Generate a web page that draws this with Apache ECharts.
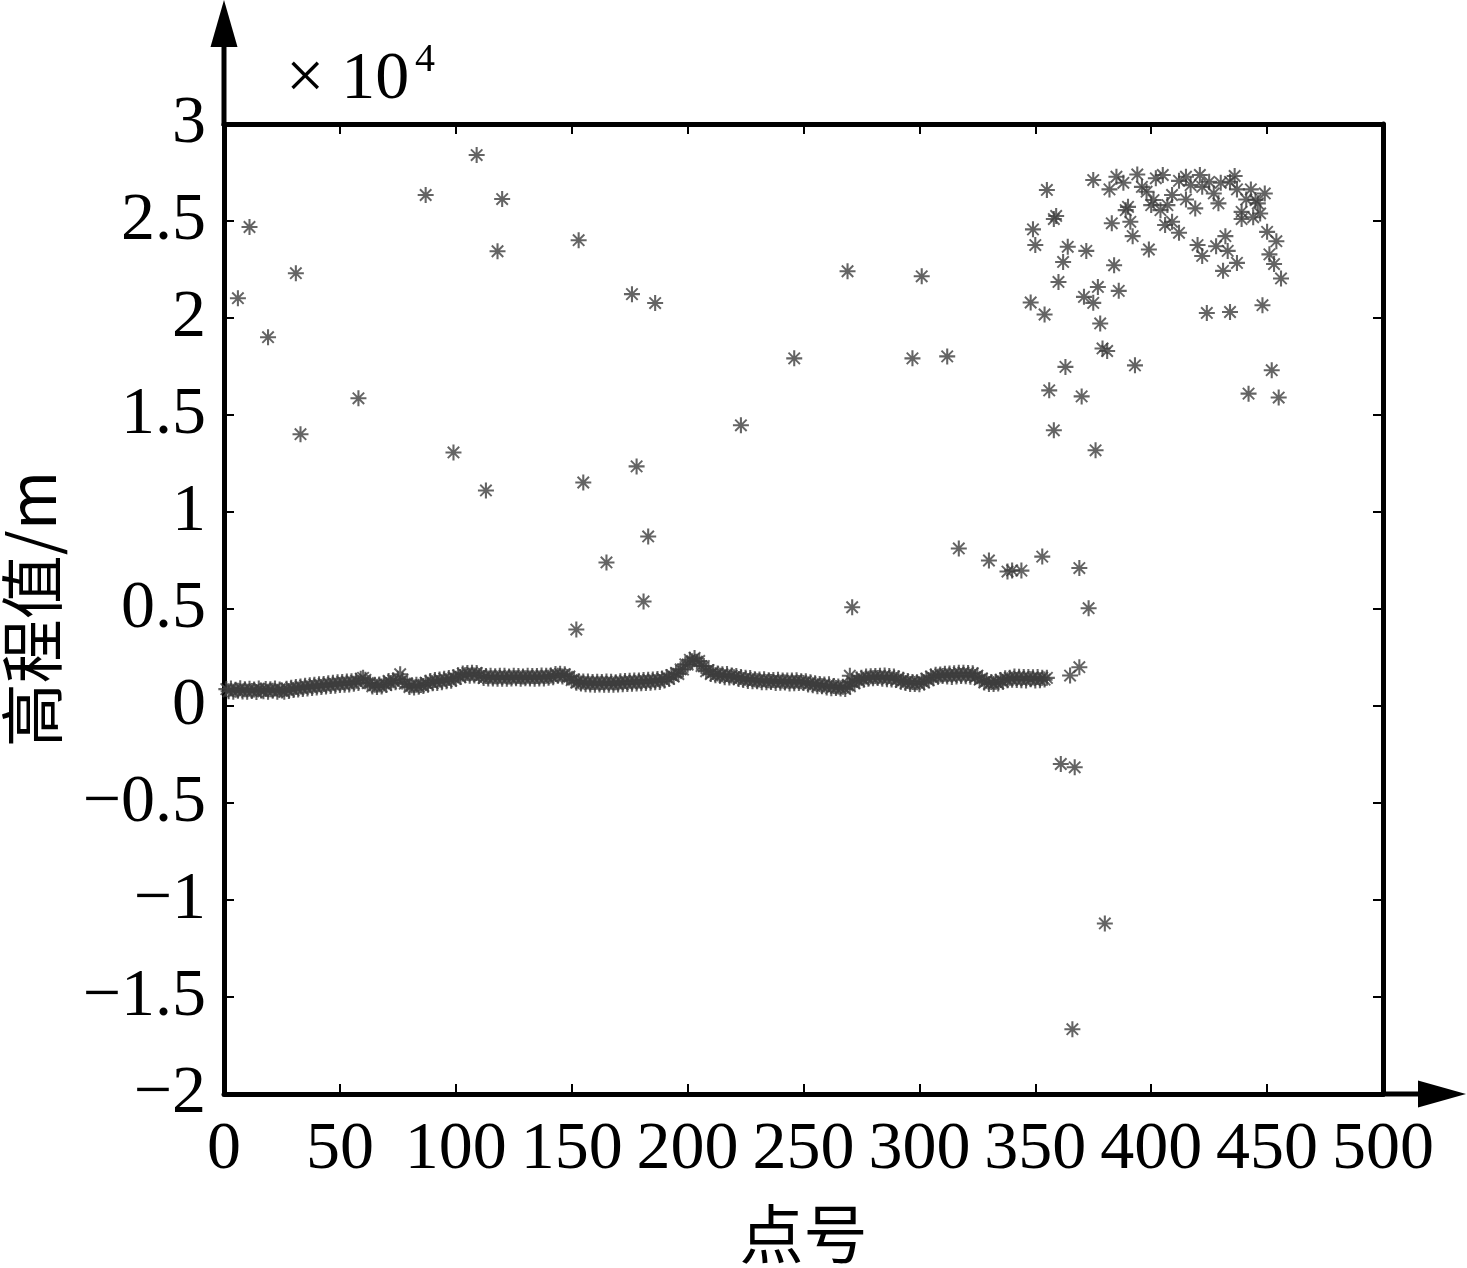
<!DOCTYPE html>
<html>
<head>
<meta charset="utf-8">
<script src="https://cdn.jsdelivr.net/npm/echarts@6/dist/echarts.min.js"></script>
<style>
  html, body { margin: 0; padding: 0; background: #fff; }
  #main { width: 1467px; height: 1268px; }
</style>
</head>
<body>
<div id="main"></div>
<script>
// 点号 1..355 的正常高程值 (m)
var baseline = [
  870, 760, 900, 740, 840, 790, 910, 750, 860, 730,
  890, 770, 850, 720, 900, 800, 760, 880, 740, 860,
  780, 900, 740, 850, 800, 730, 890, 770, 940, 820,
  980, 850, 1010, 880, 1050, 900, 1070, 930, 1100, 950,
  1120, 980, 1140, 1000, 1170, 1030, 1200, 1050, 1220, 1080,
  1240, 1090, 1260, 1110, 1280, 1150, 1300, 1190, 1400, 1450,
  1350, 1180, 1170, 1010, 1090, 980, 1110, 1000, 1160, 1080,
  1290, 1180, 1330, 1220, 1400, 1640, 1350, 1150, 1150, 980,
  1070, 950, 1100, 990, 1080, 1030, 1200, 1100, 1290, 1170,
  1340, 1190, 1370, 1230, 1410, 1270, 1440, 1300, 1480, 1400,
  1580, 1490, 1670, 1580, 1700, 1560, 1720, 1570, 1700, 1540,
  1600, 1440, 1540, 1420, 1560, 1420, 1530, 1400, 1560, 1410,
  1560, 1400, 1520, 1420, 1560, 1430, 1540, 1400, 1520, 1430,
  1560, 1420, 1540, 1410, 1550, 1420, 1570, 1420, 1560, 1450,
  1570, 1480, 1650, 1560, 1660, 1520, 1640, 1500, 1520, 1330,
  1360, 1200, 1280, 1160, 1260, 1120, 1260, 1110, 1240, 1100,
  1250, 1110, 1240, 1090, 1260, 1100, 1250, 1100, 1220, 1110,
  1280, 1120, 1290, 1140, 1300, 1150, 1310, 1160, 1320, 1170,
  1340, 1180, 1350, 1200, 1370, 1220, 1390, 1240, 1420, 1310,
  1490, 1400, 1590, 1510, 1700, 1650, 1890, 1880, 2150, 2130,
  2380, 2310, 2480, 2280, 2320, 2060, 2060, 1790, 1850, 1650,
  1750, 1580, 1670, 1560, 1640, 1480, 1650, 1470, 1570, 1480,
  1550, 1390, 1490, 1340, 1450, 1290, 1440, 1270, 1380, 1280,
  1370, 1220, 1380, 1230, 1330, 1240, 1340, 1190, 1350, 1200,
  1310, 1210, 1320, 1160, 1320, 1170, 1330, 1180, 1280, 1190,
  1270, 1110, 1220, 1070, 1170, 1020, 1130, 1020, 1110, 950,
  1120, 920, 1030, 930, 1010, 900, 990, 880, 1060, 1010,
  1250, 1180, 1370, 1280, 1450, 1350, 1520, 1410, 1530, 1430,
  1540, 1440, 1560, 1400, 1570, 1380, 1540, 1360, 1520, 1340,
  1430, 1250, 1350, 1180, 1290, 1130, 1240, 1130, 1230, 1120,
  1300, 1210, 1410, 1330, 1520, 1430, 1610, 1510, 1630, 1540,
  1660, 1520, 1670, 1500, 1690, 1520, 1710, 1540, 1720, 1530,
  1700, 1510, 1690, 1490, 1570, 1360, 1420, 1210, 1300, 1130,
  1240, 1140, 1250, 1160, 1340, 1250, 1430, 1330, 1450, 1350,
  1520, 1340, 1510, 1330, 1500, 1320, 1490, 1380, 1480, 1310,
  1490, 1330, 1460, 1360, 1450
];

// 粗差点 [点号, 高程值]
var outliers = [
  [6, 21020], [11, 24690], [19, 19010], [31, 22310], [33, 14010], [58, 15860],
  [87, 26340], [99, 13070], [109, 28400], [113, 11110], [118, 23440], [120, 26130],
  [152, 3940], [153, 24010], [155, 11520], [165, 7400], [176, 21230], [178, 12350],
  [181, 5390], [183, 8740], [186, 20770], [223, 14470], [246, 17920], [269, 22410],
  [270, 1560], [271, 5090], [297, 17920], [301, 22150], [312, 18020], [317, 8120],
  [330, 7500], [338, 6930], [340, 6990], [344, 6980], [353, 7700],
  [348, 20800], [349, 24570], [350, 23760], [354, 20180], [355, 26600], [356, 16270],
  [358, 14210], [358, 25100], [359, 25260], [360, 21860], [361, -2990], [362, 22890],
  [363, 17480], [364, 23670], [365, 1570], [366, -16660], [367, -3160], [369, 7110],
  [369, 2000], [370, 15960], [371, 21090], [372, 23460], [373, 5040], [375, 20780],
  [376, 13180], [377, 21600], [378, 19720], [379, 18430], [380, -11210], [381, 18300],
  [384, 22720], [386, 21400], [393, 17560],
  [375, 27110], [382, 26630], [383, 24880], [385, 27280], [388, 26970], [389, 25560],
  [390, 25730], [391, 24960], [392, 24220], [394, 27400], [396, 26760], [398, 26510],
  [399, 23530], [400, 25820], [401, 26080], [402, 27200], [404, 25560], [405, 27370],
  [406, 24790], [407, 25820], [409, 26340], [409, 24960], [412, 27070], [412, 24390],
  [415, 27280], [415, 26110], [417, 26850], [419, 25650], [420, 23760], [421, 27370],
  [422, 26760], [422, 23200], [424, 20260], [425, 27020], [427, 26420], [428, 23700],
  [429, 25910], [430, 26970], [431, 22430], [432, 24220], [433, 23460], [434, 27020],
  [434, 20310], [436, 27320], [437, 26630], [437, 22840], [439, 25470], [439, 25100],
  [441, 26110], [442, 16100], [443, 26630], [444, 25190], [445, 26080], [446, 25910],
  [447, 25390], [448, 20660], [449, 26420], [450, 24440], [451, 23280], [452, 17310],
  [453, 22780], [454, 23960], [455, 15900], [456, 22040]
];

var xTicks = { min: 0, max: 500, interval: 50 };
var yTicks = { min: -20000, max: 30000, interval: 5000 };

var baseData = baseline.map(function (v, i) { return [i + 1, v]; });

var star = 'path://M8.7 0H11.3V20H8.7Z M0 8.7H20V11.3H0Z ' +
  'M2 3.7L3.7 2L18 16.3L16.3 18Z M16.3 2L18 3.7L3.7 18L2 16.3Z ' +
  'M7.4 7.4H12.6V12.6H7.4Z';

var serif = '"Liberation Serif", "Times New Roman", serif';
var lineStyle = { color: '#000', width: 5 };
var tickStyle = { show: true, inside: true, length: 10, lineStyle: { color: '#000', width: 2 } };

var chart = echarts.init(document.getElementById('main'), null, { renderer: 'canvas' });

var option = {
  animation: false,
  backgroundColor: '#fff',
  grid: { left: 224, right: 84, top: 124, bottom: 174, outerBoundsMode: 'none', containLabel: false },
  xAxis: [
    {
      type: 'value',
      min: xTicks.min, max: xTicks.max, interval: xTicks.interval,
      position: 'bottom',
      name: '点号',
      nameLocation: 'middle',
      nameGap: 108,
      nameTextStyle: { fontFamily: '"Noto Sans CJK SC"', fontSize: 64, color: '#000' },
      axisLine: { show: true, onZero: false, lineStyle: lineStyle },
      axisTick: tickStyle,
      axisLabel: { fontFamily: serif, fontSize: 68, color: '#000', margin: 22 },
      splitLine: { show: false }
    },
    {
      type: 'value',
      min: xTicks.min, max: xTicks.max, interval: xTicks.interval,
      position: 'top',
      axisLine: { show: true, onZero: false, lineStyle: lineStyle },
      axisTick: tickStyle,
      axisLabel: { show: false },
      splitLine: { show: false }
    }
  ],
  yAxis: [
    {
      type: 'value',
      min: yTicks.min, max: yTicks.max, interval: yTicks.interval,
      position: 'left',
      name: '高程值/m',
      nameLocation: 'middle',
      nameGap: 160,
      nameRotate: 90,
      nameTextStyle: { fontFamily: '"Noto Sans CJK SC"', fontSize: 64, color: '#000' },
      axisLine: { show: true, onZero: false, lineStyle: lineStyle },
      axisTick: tickStyle,
      axisLabel: {
        fontFamily: serif, fontSize: 68, color: '#000', margin: 18,
        formatter: function (v) {
          return String(Math.round(v / 1000) / 10).replace('-', '\u2212');
        }
      },
      splitLine: { show: false }
    },
    {
      type: 'value',
      min: yTicks.min, max: yTicks.max, interval: yTicks.interval,
      position: 'right',
      axisLine: { show: true, onZero: false, lineStyle: lineStyle },
      axisTick: tickStyle,
      axisLabel: { show: false },
      splitLine: { show: false }
    }
  ],
  series: [
    {
      type: 'scatter',
      data: baseData,
      symbol: star,
      symbolSize: 16,
      itemStyle: { color: '#3d3d3d' }
    },
    {
      type: 'scatter',
      data: outliers,
      symbol: star,
      symbolSize: 16,
      itemStyle: { color: '#3d3d3d' }
    }
  ]
};

chart.setOption(option);

// axis arrows and the ×10^4 factor
var tl = chart.convertToPixel({ gridIndex: 0 }, [xTicks.min, yTicks.max]);
var br = chart.convertToPixel({ gridIndex: 0 }, [xTicks.max, yTicks.min]);

chart.setOption({
  graphic: [
    {
      type: 'line',
      shape: { x1: tl[0], y1: tl[1] + 2, x2: tl[0], y2: 40 },
      style: { stroke: '#000', lineWidth: 5 }
    },
    {
      type: 'polygon',
      shape: { points: [[tl[0], 0], [tl[0] - 13.5, 47], [tl[0] + 13.5, 47]] },
      style: { fill: '#000' }
    },
    {
      type: 'line',
      shape: { x1: br[0] - 2, y1: br[1], x2: 1425, y2: br[1] },
      style: { stroke: '#000', lineWidth: 5 }
    },
    {
      type: 'polygon',
      shape: { points: [[1466, br[1]], [1418, br[1] - 13.5], [1418, br[1] + 13.5]] },
      style: { fill: '#000' }
    },
    {
      type: 'text',
      x: 286, y: 80,
      style: { text: '\u00d7 10', font: '68px ' + serif, fill: '#000', textVerticalAlign: 'middle' }
    },
    {
      type: 'text',
      x: 415, y: 60,
      style: { text: '4', font: '40px ' + serif, fill: '#000', textVerticalAlign: 'middle' }
    }
  ]
});
</script>
</body>
</html>
